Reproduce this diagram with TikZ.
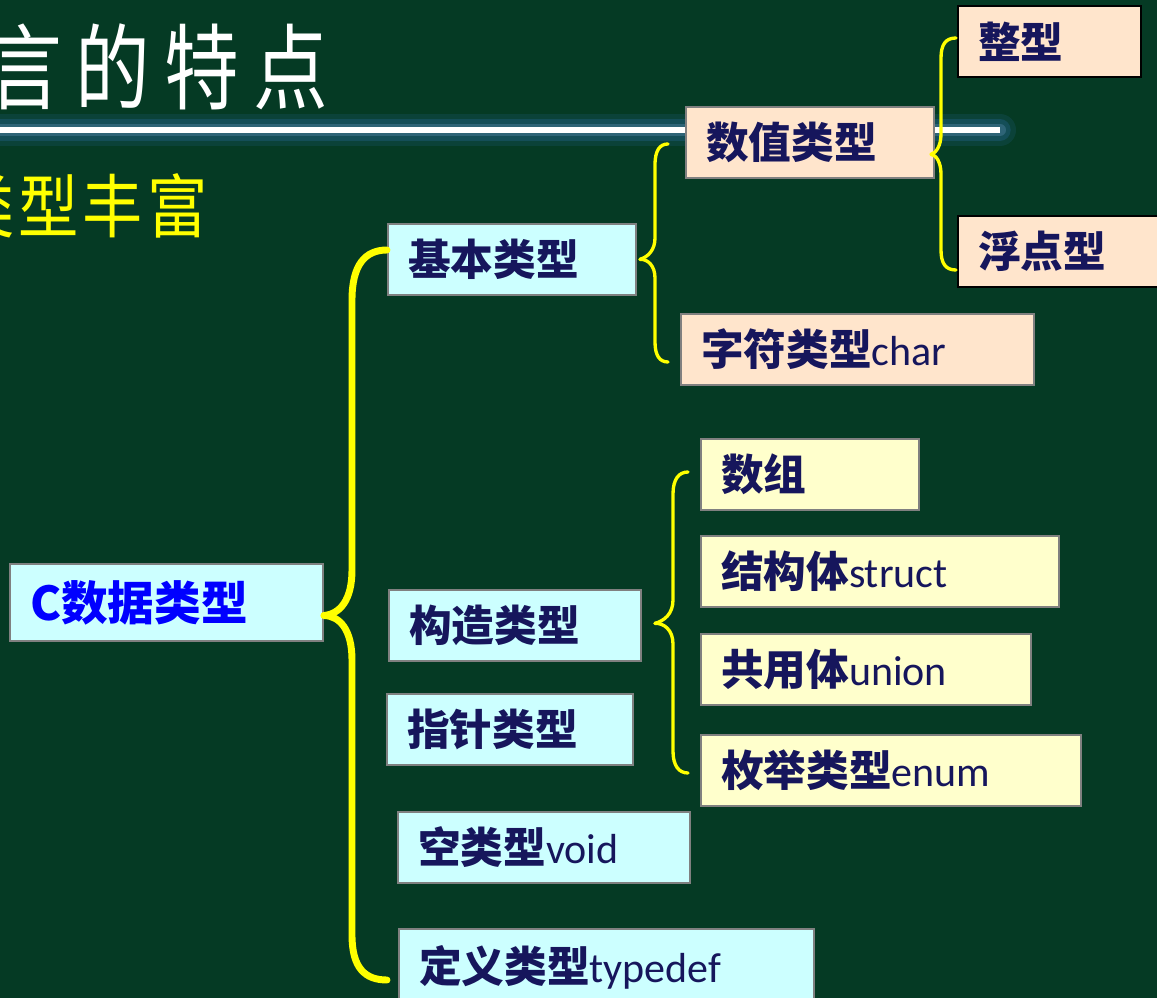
\documentclass[tikz,border=0pt]{standalone}
\usepackage{fontspec}
\setmainfont{Carlito}
\newfontfamily\cjk{Noto Sans CJK SC}
\newfontfamily\titlefont[FakeStretch=0.8]{Noto Sans CJK SC}
\newfontfamily\subfont[FakeStretch=0.87]{Noto Sans CJK SC}
\usetikzlibrary{calc}
\definecolor{bg}{RGB}{5,58,36}
\definecolor{navy}{RGB}{22,22,92}
\definecolor{cyanbox}{RGB}{204,255,255}
\definecolor{peach}{RGB}{255,229,204}
\definecolor{ltyellow}{RGB}{255,255,204}
\definecolor{boxline}{RGB}{128,128,128}
\definecolor{glow}{RGB}{30,90,120}
\definecolor{braceyellow}{RGB}{255,255,0}
\definecolor{cblue}{RGB}{0,0,255}
\newcommand{\zh}[1]{{\cjk\bfseries\fontsize{32pt}{36pt}\selectfont #1}}
\begin{document}
\begin{tikzpicture}[x=0.75pt,y=-0.75pt,
  tbox/.style={draw=boxline, line width=1.5pt, inner xsep=15pt, inner ysep=0pt,
    anchor=north west, align=left, text=navy,
    font=\fontsize{31.5pt}{34pt}\selectfont, minimum height=53pt},
  cyanb/.style={tbox, fill=cyanbox},
  peachb/.style={tbox, fill=peach},
  yelb/.style={tbox, fill=ltyellow},
  darkb/.style={peachb, draw=black},
  bigbrace/.style={draw=braceyellow, line width=5.2pt, line cap=round},
  thinbrace/.style={draw=braceyellow, line width=2.5pt, line cap=round}]
\useasboundingbox (0,0) rectangle (1157,998);
\fill[bg] (0,0) rectangle (1157,998);
% title
\node[anchor=base west, inner sep=0pt, text=white,
  font=\titlefont\fontsize{70pt}{74pt}\selectfont] (title) at (-13,103)
  {言\hspace{10.5pt}的\hspace{10.5pt}特\hspace{10.5pt}点};
\node[anchor=base west, inner sep=0pt, text=braceyellow,
  font=\subfont\fontsize{52pt}{56pt}\selectfont] (sub) at (-46,233)
  {类\hspace{3pt}型\hspace{3pt}丰\hspace{3pt}富};
% title rule with glow
\draw[glow, line width=24pt, opacity=.25, line cap=round] (0,130) -- (1000,130);
\draw[glow, line width=16pt, opacity=.5, line cap=round] (0,130) -- (1000,130);
\draw[glow!85!white, line width=9pt, opacity=.6, line cap=round] (0,130) -- (1000,130);
\draw[white, line width=4.5pt] (0,130) -- (1000,130);
% boxes
\node[cyanb, text width=204.75pt, minimum height=57.75pt, text=cblue] (cdt) at (9,563)
  {{\cjk\bfseries\fontsize{35pt}{38pt}\selectfont C数据类型}};
\node[cyanb, text width=156pt] (jb) at (387,223) {\zh{基本类型}};
\node[peachb, text width=156pt] (sz) at (685,106) {\zh{数值类型}};
\node[darkb, text width=107.25pt] (zx) at (957,5) {\zh{整型}};
\node[darkb, text width=127.5pt] (fd) at (957,215) {\zh{浮点型}};
\node[peachb, text width=234.75pt] (zf) at (680,313) {\zh{字符类型}char};
\node[yelb, text width=133.5pt] (shuzu) at (700,438) {\zh{数组}};
\node[yelb, text width=238.5pt] (jg) at (700,535) {\zh{结构体}struct};
\node[yelb, text width=217.5pt] (gy) at (700,633) {\zh{共用体}union};
\node[yelb, text width=255pt] (mj) at (700,734) {\zh{枚举类型}enum};
\node[cyanb, text width=159pt] (gz) at (388,589) {\zh{构造类型}};
\node[cyanb, text width=154.5pt] (zz) at (386,693) {\zh{指针类型}};
\node[cyanb, text width=189pt] (kong) at (397,811) {\zh{空类型}void};
\node[cyanb, text width=281.25pt, minimum height=57pt] (dy) at (398,928) {\zh{定义类型}typedef};
% brace coordinates
\coordinate (t1) at ($(cdt.east)+(0,13)$);
\coordinate (e1a) at (387,250);
\coordinate (e1b) at (387,980);
\coordinate (t2) at ($(jb.east)+(3,0)$);
\coordinate (e2a) at (668,144);
\coordinate (e2b) at (668,362);
\coordinate (t3) at ($(sz.east)+(-4,12)$);
\coordinate (e3a) at (956,38);
\coordinate (e3b) at (956,270);
\coordinate (t4) at ($(gz.east)+(13,-2)$);
\coordinate (e4a) at (688,472);
\coordinate (e4b) at (688,773);
% big brace
\draw[bigbrace] (t1) .. controls (340,614) and (352,600) .. (352,570) -- (352,300)
  .. controls (352,265) and (365,250) .. (e1a);
\draw[bigbrace] (t1) .. controls (340,616) and (352,630) .. (352,660) -- (352,935)
  .. controls (352,968) and (365,980) .. (e1b);
% brace 2
\draw[thinbrace] (t2) .. controls (648,257) and (655,250) .. (655,238) -- (655,165)
  .. controls (655,150) and (660,144) .. (e2a);
\draw[thinbrace] (t2) .. controls (648,259) and (655,266) .. (655,278) -- (655,342)
  .. controls (655,356) and (660,362) .. (e2b);
% brace 3
\draw[thinbrace] (t3) .. controls (936,153) and (941,146) .. (941,134) -- (941,58)
  .. controls (941,44) and (946,38) .. (e3a);
\draw[thinbrace] (t3) .. controls (936,155) and (941,162) .. (941,174) -- (941,250)
  .. controls (941,264) and (946,270) .. (e3b);
% brace 4
\draw[thinbrace] (t4) .. controls (664,621) and (673,614) .. (673,600) -- (673,494)
  .. controls (673,479) and (679,472) .. (e4a);
\draw[thinbrace] (t4) .. controls (664,623) and (673,630) .. (673,644) -- (673,751)
  .. controls (673,766) and (679,773) .. (e4b);
\end{tikzpicture}
\end{document}
